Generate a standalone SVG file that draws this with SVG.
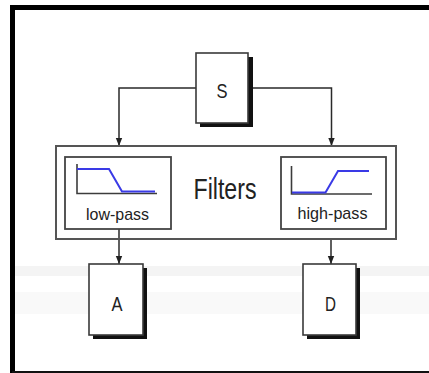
<svg xmlns="http://www.w3.org/2000/svg" width="429" height="373" viewBox="0 0 429 373">
<defs>
<style>
.box{fill:#fff;stroke:#3a3a3a;stroke-width:1.6}
.shadow{fill:#111}
.conn{fill:none;stroke:#2a2a2a;stroke-width:1.5}
.frame{fill:none;stroke:#555;stroke-width:2}
.inner{fill:none;stroke:#444;stroke-width:1.8}
.axis{fill:none;stroke:#3c3c3c;stroke-width:1.6}
.curve{fill:none;stroke:#3a3ae6;stroke-width:2}
.lbl{font-family:"Liberation Sans",Arial,sans-serif;fill:#222;text-anchor:middle}
</style>
<marker id="arr" viewBox="0 0 8 8" refX="8" refY="4" markerWidth="8" markerHeight="8" markerUnits="userSpaceOnUse" orient="auto">
<path d="M0,0.8 L8,4 L0,7.2 z" fill="#222"/>
</marker>
</defs>
<rect x="0" y="0" width="429" height="373" fill="#fff"/>
<g id="background">
<rect x="15" y="266" width="414" height="10" fill="#f4f4f4"/>
<rect x="15" y="292" width="414" height="22" fill="#f9f9f9"/>
</g>
<g id="frame">
<path d="M12.5,373 V7.5 H429" fill="none" stroke="#000" stroke-width="5"/>
<line x1="12" y1="372" x2="429" y2="372" stroke="#111" stroke-width="2"/>
</g>
<g id="connectors">
<path class="conn" d="M196,88 H119 V146" marker-end="url(#arr)"/>
<path class="conn" d="M249,88 H331.5 V146" marker-end="url(#arr)"/>
<path class="conn" d="M119,229 V264" marker-end="url(#arr)"/>
<path class="conn" d="M331,239 V264" marker-end="url(#arr)"/>
</g>
<g id="S">
<rect class="shadow" x="200" y="57" width="53" height="70"/>
<rect class="box" x="196" y="53" width="52" height="70"/>
<text class="lbl" x="222" y="98" font-size="21" textLength="11" lengthAdjust="spacingAndGlyphs">S</text>
</g>
<g id="filters">
<rect class="frame" x="56" y="146" width="340" height="93"/>
<text class="lbl" x="225" y="199" font-size="30" textLength="63" lengthAdjust="spacingAndGlyphs">Filters</text>
</g>
<g id="lowpass">
<rect class="inner" x="65" y="157" width="106" height="72"/>
<path class="axis" d="M77,164 V193.5 H157"/>
<path class="curve" d="M77,169 H109 L122,191.5 H155"/>
<text class="lbl" x="117.5" y="220" font-size="17" textLength="63" lengthAdjust="spacingAndGlyphs">low-pass</text>
</g>
<g id="highpass">
<rect class="inner" x="281" y="157" width="105" height="72"/>
<path class="axis" d="M291.5,166 V194 H372"/>
<path class="curve" d="M292,192.5 H325.5 L338,171 H369"/>
<text class="lbl" x="332.5" y="218.5" font-size="17" textLength="70" lengthAdjust="spacingAndGlyphs">high-pass</text>
</g>
<g id="A">
<rect class="shadow" x="93" y="268" width="54" height="71"/>
<rect class="box" x="89" y="264" width="54" height="71"/>
<text class="lbl" x="117" y="310.5" font-size="21" textLength="11" lengthAdjust="spacingAndGlyphs">A</text>
</g>
<g id="D">
<rect class="shadow" x="307" y="268" width="53" height="71"/>
<rect class="box" x="303" y="264" width="53" height="71"/>
<text class="lbl" x="330.5" y="310.5" font-size="21" textLength="11" lengthAdjust="spacingAndGlyphs">D</text>
</g>
</svg>
